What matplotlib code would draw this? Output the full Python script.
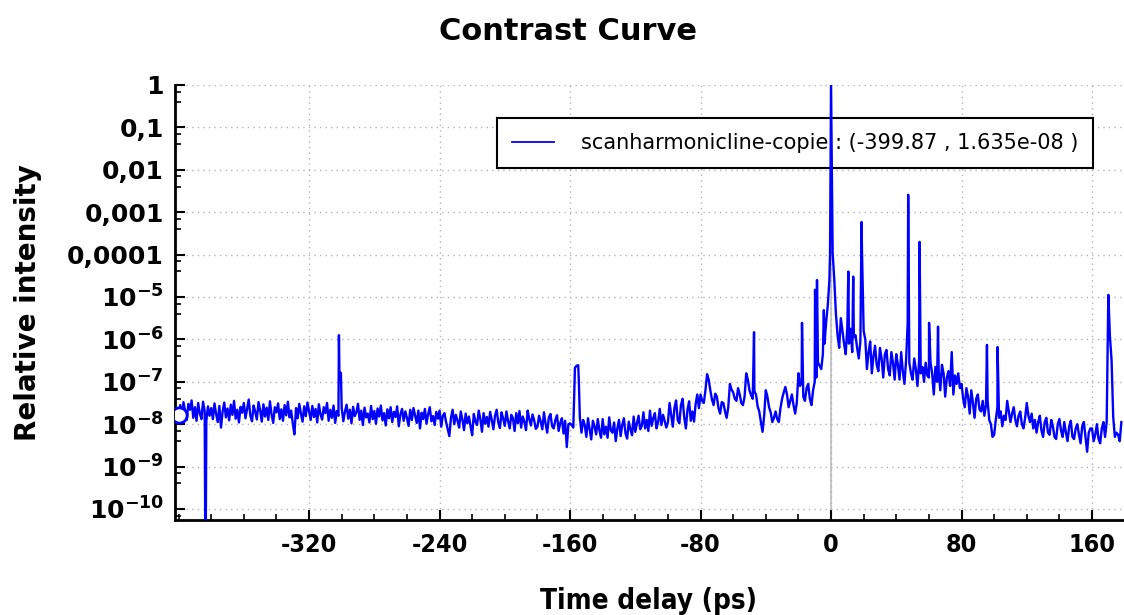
import numpy as np
import matplotlib
matplotlib.use('Agg')
import matplotlib.pyplot as plt
from matplotlib.ticker import FixedLocator, MultipleLocator, LogLocator, NullFormatter

plt.rcParams['font.family'] = ['DejaVu Sans']

t_start = -400.0
t_step = 1.0
base_logI = [
    -7.79, -7.55, -7.82, -7.48, -7.70, -7.90, -7.52, -7.66, -7.44, -7.85, -7.60, -7.92, -7.50, -7.74, -7.88, -7.47, -7.69, -7.93, -7.58, -7.80,  # -400
    -7.62, -7.88, -7.51, -7.76, -7.95, -7.57, -8.08, -7.70, -7.49, -7.84, -7.63, -7.91, -7.54, -7.78, -7.45, -7.87, -7.66, -7.96, -7.59, -7.73,  # -380
    -7.50, -7.86, -7.64, -7.42, -7.80, -7.93, -7.56, -7.71, -7.89, -7.48, -7.67, -7.94, -7.53, -7.82, -7.61, -7.90, -7.46, -7.77, -7.97, -7.60,  # -360
    -7.72, -7.51, -7.88, -7.65, -7.92, -7.55, -7.79, -7.47, -7.84, -7.68, -7.98, -8.24, -7.62, -7.86, -7.52, -7.75, -7.94, -7.58, -7.81, -7.49,  # -340
    -7.70, -7.90, -7.57, -7.83, -7.64, -7.96, -7.53, -7.77, -7.89, -7.60, -7.74, -7.50, -7.92, -7.66, -7.85, -7.56, -7.97, -7.69, -7.80, -6.79,  # -320
    -7.62, -7.93, -7.70, -7.54, -7.87, -7.66, -7.98, -7.59, -7.81, -7.72, -7.52, -7.90, -7.68, -8.02, -7.61, -7.84, -7.75, -7.96, -7.57, -7.88,  # -300
    -7.69, -7.99, -7.63, -7.82, -7.56, -7.91, -7.74, -8.03, -7.65, -7.86, -7.60, -7.95, -7.71, -7.83, -7.58, -8.05, -7.77, -7.64, -7.92, -7.70,  # -280
    -7.85, -8.04, -7.66, -7.90, -7.62, -7.79, -7.97, -7.68, -8.10, -7.73, -7.88, -7.64, -7.99, -7.76, -7.60, -7.93, -7.81, -8.02, -7.71, -7.87,  # -260
    -7.68, -8.06, -7.80, -7.74, -7.95, -8.12, -8.28, -7.85, -7.66, -8.00, -7.78, -7.92, -8.08, -7.70, -7.89, -8.14, -7.75, -7.98, -7.82, -8.05,  # -240
    -8.26, -7.76, -7.94, -8.02, -7.68, -7.88, -8.18, -7.74, -7.99, -7.83, -8.06, -7.71, -7.90, -8.12, -7.80, -7.66, -7.96, -8.09, -7.72, -7.87,  # -220
    -8.04, -7.70, -7.93, -8.10, -7.78, -7.86, -8.16, -7.74, -7.98, -7.69, -8.08, -7.82, -7.95, -8.14, -7.68, -7.88, -8.03, -7.77, -7.91, -8.11,  # -200
    -8.06, -7.80, -7.94, -8.12, -7.72, -7.99, -8.20, -7.84, -7.76, -8.05, -8.10, -7.90, -7.79, -8.16, -7.97, -7.86, -8.22, -7.92, -8.54, -8.00,  # -180
    -7.98, -8.02, -8.08, -6.67, -6.62, -6.61, -7.84, -8.20, -7.90, -8.02, -8.30, -7.86, -8.12, -8.36, -7.92, -8.05, -8.24, -7.88, -8.15, -8.32,  # -160
    -7.88, -8.24, -8.06, -8.32, -7.84, -8.15, -8.20, -7.96, -8.40, -8.10, -7.90, -8.28, -8.02, -7.86, -8.22, -8.34, -7.94, -8.12, -8.26, -7.82,  # -140
    -8.18, -7.98, -7.80, -8.12, -8.04, -7.72, -8.10, -7.90, -8.16, -7.68, -8.04, -7.86, -7.74, -8.10, -7.95, -7.64, -8.02, -7.78, -7.92, -8.08,  # -120
    -7.96, -7.50, -7.78, -8.06, -7.62, -7.44, -7.90, -7.98, -7.55, -7.40, -7.84, -8.10, -7.66, -7.46, -7.92, -7.70, -7.94, -7.52, -7.30, -7.62,  # -100
    -7.30, -7.45, -7.50, -7.20, -6.82, -6.95, -7.20, -7.42, -7.55, -7.28, -7.35, -7.62, -7.75, -7.48, -7.50, -7.70, -7.85, -7.60, -7.05, -7.18,  # -80
    -7.25, -7.40, -7.45, -7.15, -7.30, -7.50, -7.55, -7.35, -6.80, -6.95, -7.20, -7.32, -7.40, -7.22, -7.30, -7.58, -7.70, -7.95, -8.18, -7.80,  # -60
    -7.20, -7.35, -7.60, -7.72, -7.95, -7.85, -7.70, -7.88, -7.95, -7.62, -7.40, -7.25, -7.12, -7.30, -7.60, -7.45, -7.30, -7.55, -7.75, -7.50,  # -40
    -6.80, -7.10, -7.00, -7.35, -7.45, -7.15, -7.05, -7.40, -7.55, -7.20, -7.00, -6.90, -6.55, -6.62, -6.70, -6.35, -6.10, -5.60, -5.20, -4.60,  # -20
    0.00, -3.96, -4.60, -5.40, -5.90, -6.20, -5.50, -5.80, -6.10, -6.35, -5.70, -6.10, -5.75, -6.30, -5.95, -5.90, -6.20, -6.45, -6.05, -3.96,  # 0
    -5.80, -6.00, -6.70, -6.30, -6.05, -6.80, -6.40, -6.15, -6.60, -6.75, -6.20, -6.45, -6.90, -6.35, -6.25, -6.70, -6.85, -6.30, -6.55, -6.95,  # 20
    -6.35, -6.60, -6.95, -6.30, -6.75, -7.05, -6.50, -5.61, -6.55, -6.80, -6.95, -6.45, -6.70, -7.10, -6.50, -6.80, -6.65, -7.00, -6.55, -6.85,  # 40
    -6.90, -6.55, -6.80, -7.30, -6.65, -7.00, -6.75, -7.20, -6.60, -6.80, -7.35, -6.90, -6.75, -7.10, -6.30, -7.30, -6.85, -7.05, -6.80, -7.15,  # 60
    -7.05, -7.40, -7.60, -7.15, -7.35, -7.75, -7.20, -7.50, -7.85, -7.40, -7.30, -7.65, -7.70, -7.45, -7.80, -7.55, -7.45, -7.90, -8.00, -8.30,  # 80
    -8.25, -7.90, -7.60, -7.85, -7.70, -8.05, -7.80, -7.90, -7.45, -7.70, -7.95, -7.75, -7.60, -7.90, -8.05, -7.80, -7.70, -8.00, -8.10, -7.85,  # 100
    -7.50, -7.80, -7.95, -7.75, -8.10, -7.90, -8.20, -7.95, -7.80, -8.15, -8.30, -7.95, -7.85, -8.20, -8.25, -7.90, -8.05, -8.30, -8.35, -8.00,  # 120
    -7.88, -8.15, -8.30, -7.95, -8.20, -8.40, -8.05, -7.92, -8.30, -8.35, -8.10, -8.00, -8.25, -8.45, -8.05, -7.95, -8.30, -8.65, -8.20, -8.10,  # 140
    -8.10, -8.40, -8.25, -8.00, -8.35, -8.45, -8.10, -7.95, -8.30, -7.95, -4.95, -5.94, -6.50, -7.83, -8.30, -8.20, -8.25, -8.40, -7.95,         # 160
]

# narrow features falling between samples (time in ps, log10 intensity)
spike_t = [-383.5, -301.7, -301.4, -300.5, -157.5, -154.6, -47.2, -17.8, -9.8, -8.6,
           -4.4, -0.6, 0.6, 10.6, 13.6, 18.7, 47.3, 54.3, 60.1, 65.6, 95.6, 102.1]
spike_logI = [-12.0, -5.90, -6.79, -6.79, -7.36, -7.00, -5.83, -5.61, -4.83, -4.60,
              -5.31, -3.96, -2.48, -4.40, -4.52, -3.23, -2.59, -3.70, -5.61, -5.70, -6.13, -6.18]

series_name = 'scanharmonicline-copie'
cursor_t = -399.87
cursor_val = 1.635e-08

x_ticks = [-320, -240, -160, -80, 0, 80, 160]
y_ticks = [1e-10, 1e-9, 1e-8, 1e-7, 1e-6, 1e-5, 1e-4, 1e-3, 1e-2, 1e-1, 1]
y_labels = [r'$\mathbf{10^{-10}}$', r'$\mathbf{10^{-9}}$', r'$\mathbf{10^{-8}}$',
            r'$\mathbf{10^{-7}}$', r'$\mathbf{10^{-6}}$', r'$\mathbf{10^{-5}}$',
            '0,0001', '0,001', '0,01', '0,1', '1']

t_base = t_start + t_step * np.arange(len(base_logI))
t_all = np.concatenate([t_base, spike_t])
logI_all = np.concatenate([base_logI, spike_logI])
order = np.argsort(t_all)
t_all = t_all[order]
intensity = 10.0 ** logI_all[order]

fig = plt.figure(figsize=(11.24, 6.15), dpi=100)
ax = fig.add_axes([175 / 1124, 95 / 615, 948 / 1124, 435 / 615])
ax.set_yscale('log')

ax.axvline(0, color='#c8c8c8', lw=1.5, zorder=1.5)
ax.plot(t_all, intensity, color='#0000ff', lw=1.7, zorder=3,
        label=f'{series_name} : ({cursor_t} , {cursor_val:.3e} )')
ax.plot([cursor_t], [cursor_val], 'o', mfc='white', mec='#0000ff', mew=2, ms=11, zorder=4)

ax.set_xlim(-402.2, 179.0)
ax.set_ylim(10 ** -10.26, 1.0)

ax.yaxis.set_major_locator(FixedLocator(y_ticks))
ax.yaxis.set_minor_locator(LogLocator(base=10, subs=(4.0, 7.0), numticks=30))
ax.yaxis.set_minor_formatter(NullFormatter())
ax.set_yticks(y_ticks, labels=y_labels, fontsize=18, fontweight='bold')
ax.set_xticks(x_ticks, labels=[str(v) for v in x_ticks], fontsize=18, fontweight='bold',
              fontstretch='condensed')
ax.xaxis.set_minor_locator(MultipleLocator(20))

ax.tick_params(which='major', direction='in', length=7, width=1.5, top=False, right=False)
ax.tick_params(which='minor', direction='in', length=4, width=1.2, top=False, right=False)
ax.tick_params(axis='x', pad=9)
ax.tick_params(axis='y', pad=8)

for s in ['top', 'right']:
    ax.spines[s].set_visible(False)
for s in ['left', 'bottom']:
    ax.spines[s].set_linewidth(2)

ax.grid(True, which='major', linestyle=(0, (1, 3)), color='#b4b4b4', lw=1.0)

leg = ax.legend(loc='upper right', bbox_to_anchor=(0.979, 0.947), fontsize=15, fancybox=False,
                framealpha=1, edgecolor='black', borderpad=0.7, handlelength=2.0, handletextpad=1.3)
leg.get_frame().set_linewidth(1.5)
leg.get_lines()[0].set_linewidth(1.3)
leg.set_zorder(2)

ax.set_xlabel('Time delay (ps)', fontsize=20, fontweight='bold', fontstretch='condensed')
ax.xaxis.set_label_coords(0.5, -0.155)
ax.set_ylabel('Relative intensity', fontsize=20, fontweight='bold')
ax.yaxis.set_label_coords(-0.14, 0.5)
fig.suptitle('Contrast Curve', fontsize=22, fontweight='bold', x=0.505, y=0.972)

fig.savefig('out.png', dpi=100)
